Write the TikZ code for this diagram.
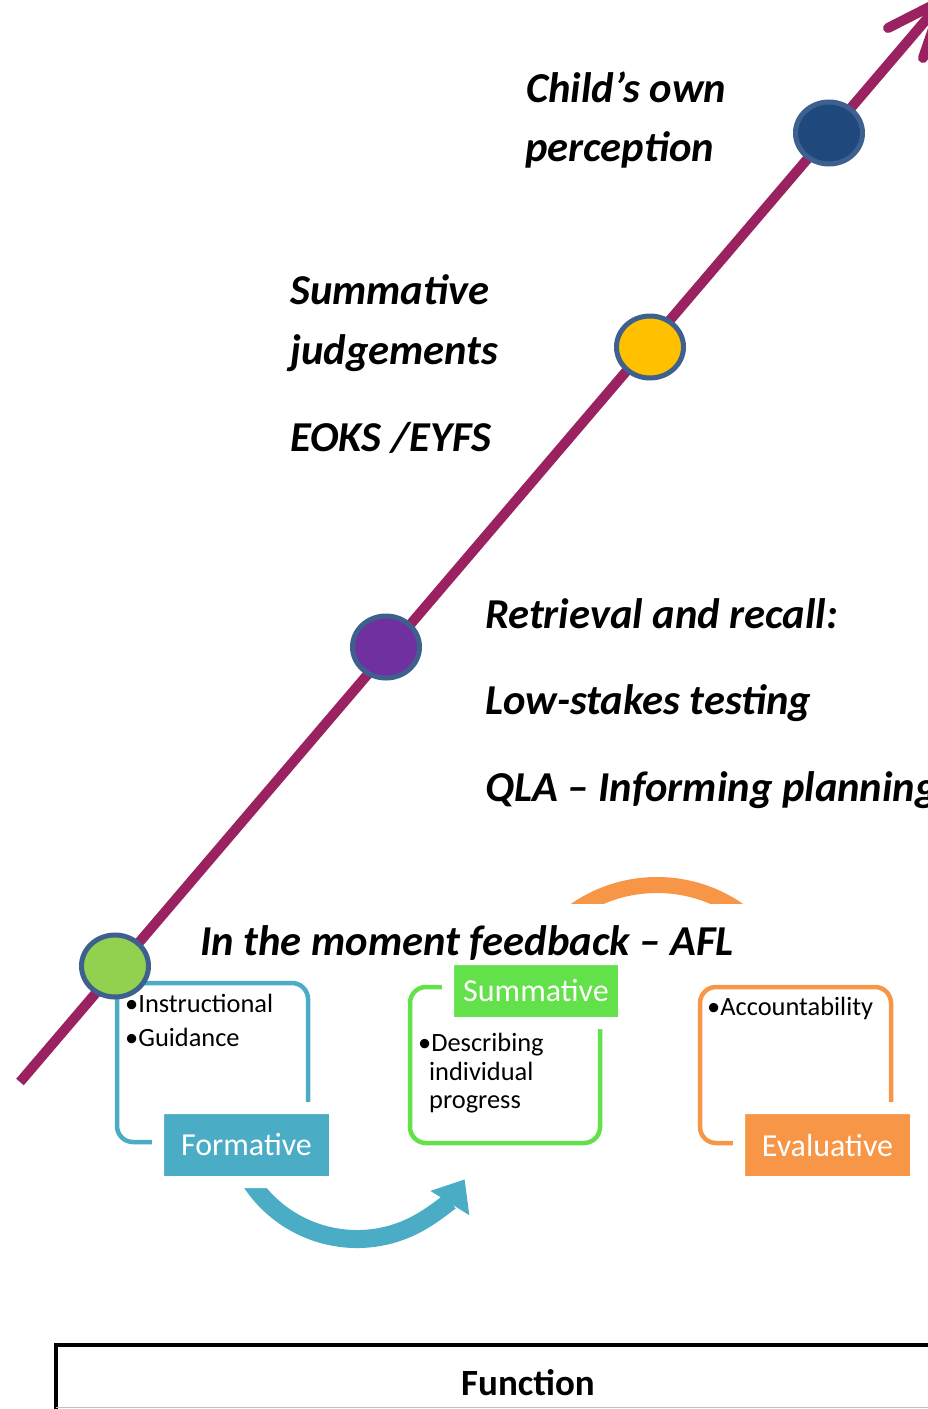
\documentclass[tikz,border=0pt]{standalone}
\usepackage{fontspec}
\setmainfont{Carlito}
\usetikzlibrary{shapes.geometric,arrows.meta}
\definecolor{cLine}{RGB}{155,34,96}
\definecolor{cRim}{RGB}{62,96,142}
\definecolor{cNavy}{RGB}{31,73,125}
\definecolor{cGold}{RGB}{255,192,0}
\definecolor{cViolet}{RGB}{112,48,160}
\definecolor{cLime}{RGB}{146,208,80}
\definecolor{cTeal}{RGB}{75,172,198}
\definecolor{cGrn}{RGB}{98,225,74}
\definecolor{cOrng}{RGB}{247,150,70}
\tikzset{
  mainline/.style={draw=cLine, line width=10pt},
  dot/.style={ellipse, draw=cRim, line width=5pt, minimum width=67pt, minimum height=62pt, inner sep=0pt},
  bigtxt/.style={font=\fontsize{42.6}{50}\selectfont\bfseries\itshape, anchor=base west, inner sep=0pt},
  boxtxt/.style={font=\fontsize{26.4}{31}\selectfont, anchor=base west, inner sep=0pt},
  frame/.style={line width=4.5pt, rounded corners=16pt},
  lbl/.style={draw=white, line width=12pt, rounded corners=4pt, text=white,
              font=\fontsize{32}{38}\selectfont, inner sep=0pt},
}
\begin{document}
\begin{tikzpicture}[x=1pt,y=-1pt]
\useasboundingbox (0,0) rectangle (927,1409);

% orange arc (clipped)
\begin{scope}
  \clip (400,850) rectangle (927,903);
  \draw[cOrng, line width=16pt] (657,1028) ++(225:143) arc[start angle=225, end angle=315, radius=143];
\end{scope}

% blue curved arrow
\draw[cTeal, line width=18pt, -{Triangle[length=28pt,width=44pt]}]
  (357,1112) ++(152:127) arc[start angle=152, end angle=32, radius=127];

% boxes
\draw[frame, cTeal] (117,983) rectangle (308,1142);
\draw[frame, cGrn] (410,987) rectangle (600,1143);
\draw[frame, cOrng] (700,987) rectangle (891,1143);

% labels
\node[lbl, fill=cTeal, minimum width=177pt, minimum height=74pt] (form) at (246.5,1145) {Formative};
\node[lbl, fill=cGrn, minimum width=176pt, minimum height=64pt] (summ) at (536,991) {Summative};
\node[lbl, fill=cOrng, minimum width=177pt, minimum height=74pt] (eval) at (827.5,1145) {Evaluative};

% main line with arrow
\coordinate (ls) at (20,1082);
\coordinate (lt) at (943,0);
\coordinate (a1) at (888,28);
\coordinate (a2) at (923,58);
\draw[mainline] (ls) -- (lt);
\draw[mainline, line cap=round, line join=round] (a1) -- (lt) -- (a2);

% dots
\node[dot, fill=cNavy] (d4) at (829,133) {};
\node[dot, fill=cGold] (d3) at (650,347) {};
\node[dot, fill=cViolet] (d2) at (386,647) {};
\node[dot, fill=cLime] (d1) at (115,966) {};

% big texts
\node[bigtxt] (t1) at (526,102) {Child’s own};
\node[bigtxt] (t2) at (525,161) {perception};
\node[bigtxt] (t3) at (290,304) {Summative};
\node[bigtxt] (t4) at (290,364) {judgements};
\node[bigtxt] (t5) at (290,451) {EOKS /EYFS};
\node[bigtxt] (t6) at (485,628) {Retrieval and recall:};
\node[bigtxt] (t7) at (485,714) {Low-stakes testing};
\node[bigtxt] (t8) at (485,801) {QLA – Informing planning};
\node[bigtxt] (t9) at (200,955) {In the moment feedback – AFL};

% box texts
\node[boxtxt] (b1) at (125,1012) {•Instructional};
\node[boxtxt] (b2) at (125,1046) {•Guidance};
\node[boxtxt] (b3) at (418,1051) {•Describing};
\node[boxtxt] (b4) at (429,1080) {individual};
\node[boxtxt] (b5) at (429,1108) {progress};
\node[boxtxt] (b6) at (707,1015) {•Accountability};

% function bar
\draw[line width=4pt] (56,1412) -- (56,1345) -- (930,1345);
\draw[black!25, line width=1.5pt] (56,1407.5) -- (930,1407.5);
\node[font=\fontsize{37}{44}\selectfont\bfseries, anchor=base, inner sep=0pt] (fn) at (528,1395) {Function};
\end{tikzpicture}
\end{document}
